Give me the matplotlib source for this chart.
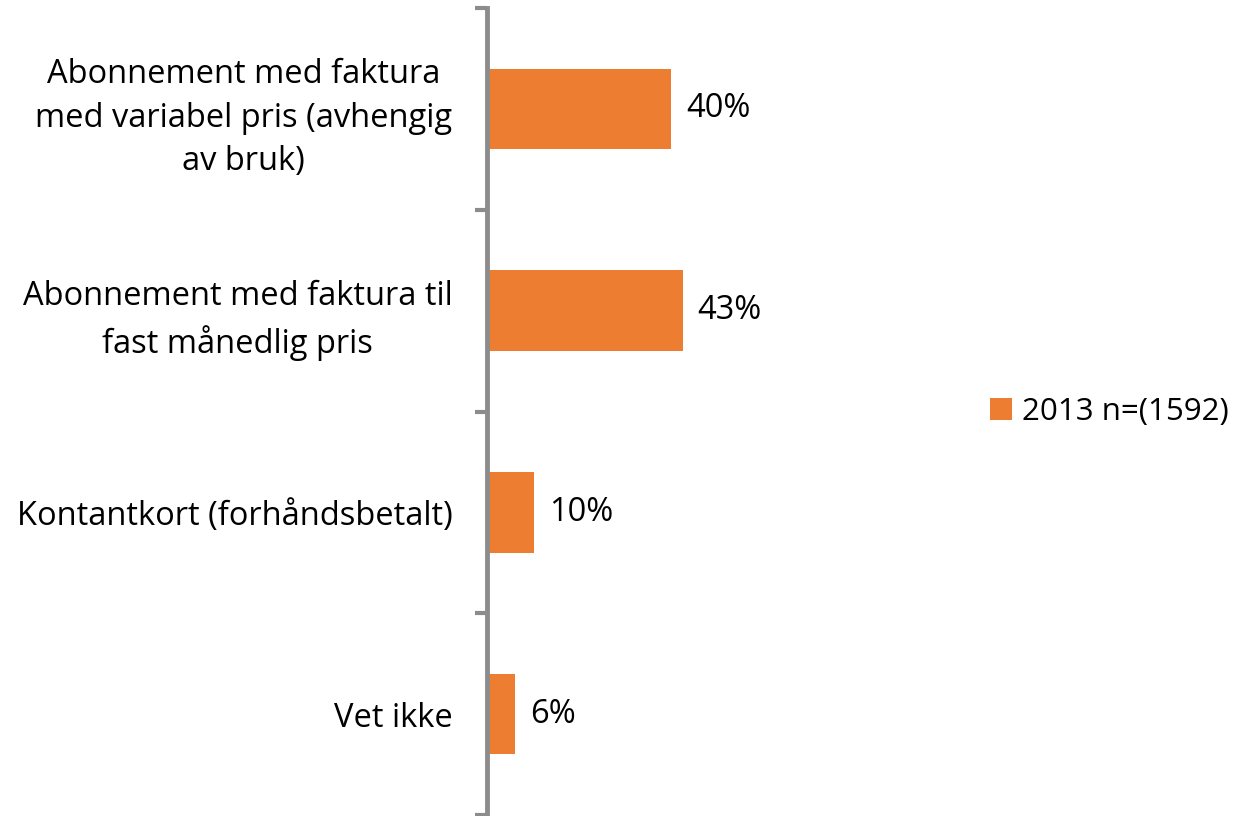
import matplotlib.pyplot as plt
import matplotlib.patches as mpatches

plt.rcParams['font.family'] = ['Open Sans', 'DejaVu Sans']

categories = [
    'Abonnement med faktura\nmed variabel pris (avhengig\nav bruk)',
    'Abonnement med faktura til\nfast månedlig pris',
    'Kontantkort (forhåndsbetalt)',
    'Vet ikke',
]
values = [40.1, 42.5, 10.2, 6.0]
value_labels = ['40%', '43%', '10%', '6%']
series_name = '2013 n=(1592)'

orange = '#ED7D31'
grey = '#8C8C8C'

fig = plt.figure(figsize=(12.43, 8.16), dpi=100)
ax = fig.add_axes([487 / 1243, 1 - 815 / 816, 460 / 1243, 807 / 816])

pos = list(range(len(categories)))
ax.barh(pos, values, height=0.4, color=orange)
ax.set_ylim(len(categories) - 0.5, -0.5)
ax.set_xlim(0, 100)

for p, v, lab in zip(pos, values, value_labels):
    ax.text(v + 3.3, p, lab, va='center', ha='left', fontsize=23.5, color='black')

ax.set_yticks([p - 0.5 for p in pos] + [len(categories) - 0.5])
ax.set_yticklabels([])
ax.set_yticks(pos, minor=True)
ax.set_yticklabels(categories, minor=True, fontsize=23.5, ha='right',
                   multialignment='center', linespacing=1.42)
ax.tick_params(axis='y', which='minor', length=0, pad=25)
ax.tick_params(axis='y', which='major', length=9, width=3, color=grey)
ax.set_xticks([])
for s in ['top', 'right', 'bottom']:
    ax.spines[s].set_visible(False)
ax.spines['left'].set_color(grey)
ax.spines['left'].set_linewidth(3.5)

handle = mpatches.Patch(facecolor=orange, label=series_name)
fig.legend(handles=[handle], loc='center left', bbox_to_anchor=(984 / 1243, 1 - 412 / 816),
           frameon=False, fontsize=22.5, handlelength=0.7, handleheight=0.7,
           handletextpad=0.3, borderaxespad=0, borderpad=0.2)

fig.savefig('out.png', dpi=100)
